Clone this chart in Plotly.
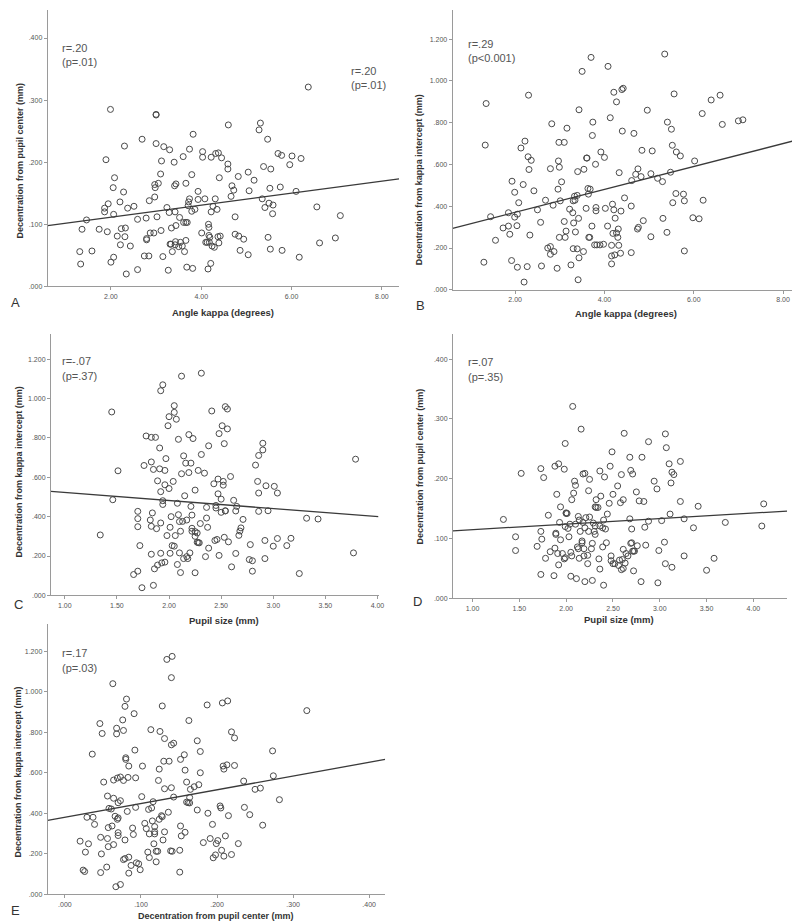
import plotly.graph_objects as go

W, H = 800, 921

# ---------------- Panel A: angle kappa vs decentration from pupil center
a_x = [1.31,1.33,1.36,1.46,1.58,1.74,1.86,1.86,1.92,1.94,1.89,1.99,2.00,2.06,2.05,2.08,2.06,2.14,2.20,2.21,
       2.23,2.28,2.30,2.31,2.32,2.34,2.37,2.43,2.51,2.59,2.59,2.69,2.74,2.78,2.79,2.79,2.84,2.85,2.87,2.95,
       2.97,2.97,2.98,3.00,3.00,3.00,3.02,3.05,3.10,3.11,3.12,3.15,3.17,3.24,3.27,3.30,3.29,3.31,3.33,3.34,
       3.36,3.40,3.41,3.42,3.42,3.43,3.44,3.44,3.50,3.52,3.54,3.58,3.60,3.61,3.63,3.66,3.66,3.66,3.68,3.69,
       3.72,3.71,3.74,3.74,3.79,3.79,3.82,3.81,3.86,3.93,3.93,4.01,4.03,4.03,4.08,4.10,4.13,4.15,4.16,4.17,
       4.17,4.18,4.19,4.21,4.22,4.22,4.24,4.26,4.29,4.31,4.32,4.35,4.37,4.38,4.39,4.40,4.42,4.45,4.60,4.59,
       4.59,4.66,4.68,4.72,4.75,4.75,4.82,4.83,4.86,4.94,5.04,5.04,5.06,5.17,5.28,5.31,5.35,5.38,5.41,5.47,
       5.48,5.50,5.52,5.54,5.53,5.58,5.59,5.70,5.75,5.78,5.79,5.96,6.01,6.10,6.17,6.21,6.37,6.56,6.62,6.97,7.08]
a_y = [0.056,0.036,0.092,0.107,0.057,0.092,0.126,0.120,0.088,0.133,0.204,0.285,0.039,0.047,0.159,0.175,0.116,0.081,0.136,0.067,
       0.093,0.152,0.226,0.080,0.094,0.020,0.126,0.065,0.129,0.027,0.108,0.237,0.049,0.110,0.077,0.075,0.049,0.138,0.086,0.086,
       0.144,0.164,0.159,0.277,0.276,0.230,0.112,0.166,0.181,0.090,0.202,0.048,0.225,0.127,0.026,0.220,0.119,0.068,0.068,0.094,
       0.056,0.200,0.162,0.120,0.067,0.072,0.098,0.165,0.064,0.111,0.071,0.065,0.209,0.103,0.056,0.166,0.103,0.074,0.031,0.103,
       0.136,0.130,0.141,0.221,0.180,0.121,0.245,0.029,0.124,0.153,0.140,0.086,0.217,0.208,0.141,0.071,0.071,0.028,0.100,0.095,
       0.082,0.071,0.079,0.037,0.120,0.208,0.065,0.129,0.063,0.141,0.214,0.124,0.080,0.215,0.070,0.175,0.081,0.207,0.260,0.197,
       0.189,0.145,0.162,0.155,0.084,0.112,0.177,0.081,0.058,0.076,0.184,0.051,0.154,0.171,0.252,0.263,0.141,0.193,0.127,0.237,
       0.079,0.134,0.158,0.189,0.060,0.117,0.131,0.214,0.160,0.211,0.058,0.196,0.210,0.153,0.047,0.206,0.321,0.128,0.070,0.078,0.114]
a_fit_x = [0.60, 8.38]
a_fit_y = [0.098, 0.173]

# ---------------- Panel B: angle kappa vs decentration from kappa intercept
b_x = [1.30,1.35,1.33,1.45,1.56,1.73,1.85,1.85,1.88,1.92,1.93,1.99,1.99,2.04,2.05,2.05,2.08,2.13,2.18,2.22,
       2.27,2.20,2.29,2.30,2.31,2.33,2.36,2.42,2.50,2.57,2.59,2.68,2.73,2.79,2.79,2.79,2.82,2.85,2.87,2.94,
       2.96,2.97,2.98,2.99,2.99,3.01,3.04,3.10,3.10,3.12,3.14,3.16,3.22,3.25,3.29,3.30,3.30,3.31,3.33,3.34,
       3.35,3.39,3.39,3.40,3.42,3.43,3.43,3.41,3.50,3.53,3.54,3.59,3.60,3.61,3.63,3.64,3.65,3.67,3.68,3.70,
       3.72,3.73,3.74,3.78,3.80,3.81,3.81,3.83,3.90,3.92,3.98,4.02,4.00,4.07,4.08,4.13,4.16,4.16,4.16,4.18,
       4.19,4.21,4.21,4.23,4.24,4.27,4.27,4.30,4.31,4.32,4.33,4.36,4.37,4.39,4.42,4.40,4.45,4.60,4.60,4.61,
       4.66,4.70,4.74,4.76,4.75,4.82,4.84,4.87,4.96,5.04,5.04,5.07,5.19,5.30,5.31,5.35,5.40,5.41,5.48,5.50,
       5.52,5.53,5.56,5.61,5.60,5.70,5.77,5.79,5.79,5.98,6.02,6.12,6.19,6.21,6.39,6.59,6.64,7.00,7.10]
b_y = [0.132,0.892,0.693,0.350,0.237,0.296,0.369,0.305,0.266,0.140,0.520,0.467,0.348,0.307,0.362,0.108,0.417,0.679,0.504,0.712,
       0.111,0.037,0.637,0.932,0.576,0.262,0.620,0.474,0.383,0.323,0.114,0.429,0.200,0.207,0.170,0.580,0.795,0.405,0.183,0.103,
       0.482,0.617,0.706,0.587,0.251,0.426,0.517,0.706,0.327,0.251,0.281,0.774,0.386,0.119,0.369,0.426,0.197,0.320,0.448,0.429,
       0.277,0.452,0.196,0.566,0.342,0.862,0.153,0.048,1.046,0.183,0.577,0.390,0.631,0.631,0.485,0.458,0.251,0.251,0.482,1.113,
       0.305,0.739,0.803,0.215,0.601,0.394,0.378,0.215,0.215,0.660,0.218,0.390,0.634,0.305,1.070,0.824,0.213,0.162,0.124,0.410,
       0.270,0.946,0.383,0.167,0.343,0.900,0.272,0.251,0.291,0.213,0.561,0.175,0.377,0.959,0.965,0.760,0.440,0.178,0.401,0.523,
       0.749,0.553,0.291,0.299,0.579,0.542,0.668,0.331,0.860,0.254,0.556,0.665,0.534,0.518,0.342,1.129,0.275,0.803,0.563,0.769,
       0.692,0.417,0.938,0.660,0.461,0.641,0.458,0.426,0.186,0.345,0.617,0.340,0.844,0.429,0.909,0.932,0.792,0.809,0.814]
b_fit_x = [0.60, 8.38]
b_fit_y = [0.294, 0.721]

# ---------------- Panel C: pupil size vs decentration from kappa intercept
c_x = [1.34,1.45,1.46,1.51,1.66,1.70,1.70,1.70,1.70,1.72,1.74,1.76,1.78,1.83,1.87,1.82,1.83,1.83,1.83,1.84,
       1.85,1.85,1.86,1.88,1.89,1.89,1.91,1.91,1.92,1.92,1.92,1.92,1.93,1.94,1.94,1.94,1.96,1.96,1.96,1.97,
       1.98,2.00,2.01,2.01,2.02,2.03,2.04,2.05,2.05,2.00,1.99,2.05,2.06,2.07,2.08,2.08,2.09,2.09,2.10,2.10,
       2.11,2.11,2.12,2.12,2.13,2.14,2.14,2.15,2.16,2.17,2.17,2.18,2.19,2.19,2.20,2.21,2.21,2.22,2.22,2.22,
       2.23,2.25,2.25,2.25,2.25,2.27,2.27,2.28,2.30,2.31,2.31,2.29,2.28,2.34,2.35,2.36,2.36,2.37,2.38,2.38,
       2.41,2.43,2.44,2.45,2.45,2.46,2.47,2.47,2.48,2.48,2.50,2.50,2.51,2.52,2.52,2.53,2.53,2.54,2.54,2.54,
       2.56,2.56,2.57,2.59,2.60,2.62,2.64,2.64,2.65,2.67,2.68,2.69,2.71,2.77,2.78,2.80,2.80,2.83,2.85,2.86,
       2.86,2.86,2.90,2.90,2.92,2.92,2.93,2.95,3.00,3.01,3.04,3.04,3.13,3.17,3.25,3.32,3.43,3.77,3.79]
c_y = [0.307,0.932,0.486,0.633,0.106,0.123,0.427,0.390,0.349,0.253,0.039,0.660,0.810,0.803,0.803,0.383,0.678,0.351,0.209,0.419,
       0.640,0.051,0.135,0.339,0.154,0.582,0.749,0.643,1.040,0.527,0.368,0.214,0.165,1.070,0.481,0.462,0.635,0.562,0.169,0.695,
       0.304,0.543,0.346,0.214,0.400,0.253,0.579,0.964,0.930,0.908,0.862,0.250,0.304,0.895,0.157,0.468,0.793,0.410,0.216,0.375,
       0.326,0.116,1.114,0.618,0.376,0.187,0.709,0.506,0.672,0.197,0.383,0.187,0.817,0.624,0.216,0.672,0.452,0.408,0.341,0.326,
       0.797,0.324,0.300,0.115,0.535,0.317,0.270,0.635,0.365,0.716,1.129,0.267,0.268,0.621,0.197,0.447,0.393,0.346,0.760,0.240,
       0.937,0.567,0.279,0.457,0.444,0.284,0.516,0.591,0.203,0.822,0.489,0.422,0.862,0.579,0.560,0.771,0.295,0.429,0.430,0.959,
       0.947,0.846,0.272,0.604,0.145,0.483,0.213,0.429,0.452,0.305,0.327,0.343,0.386,0.182,0.258,0.176,0.123,0.662,0.579,0.711,
       0.520,0.427,0.773,0.739,0.279,0.187,0.557,0.430,0.250,0.554,0.289,0.520,0.253,0.290,0.111,0.392,0.388,0.216,0.692]
c_fit_x = [0.867, 4.01]
c_fit_y = [0.528, 0.400]

# ---------------- Panel D: pupil size vs decentration from pupil center
d_x = [1.33,1.46,1.46,1.52,1.69,1.73,1.73,1.74,1.73,1.76,1.78,1.81,1.83,1.87,1.88,1.88,1.89,1.89,1.90,1.91,
       1.92,1.92,1.93,1.94,1.94,1.96,1.98,1.98,1.99,1.99,1.99,2.00,2.00,2.01,2.02,2.03,2.04,2.05,2.05,2.06,
       2.06,2.07,2.08,2.09,2.10,2.10,2.11,2.12,2.13,2.13,2.14,2.14,2.15,2.16,2.17,2.17,2.18,2.18,2.19,2.19,
       2.20,2.20,2.20,2.21,2.23,2.23,2.24,2.24,2.25,2.25,2.27,2.28,2.28,2.29,2.30,2.31,2.31,2.31,2.32,2.32,
       2.34,2.35,2.36,2.36,2.36,2.37,2.39,2.39,2.40,2.40,2.41,2.42,2.43,2.44,2.46,2.47,2.48,2.48,2.49,2.50,
       2.50,2.52,2.55,2.56,2.57,2.58,2.59,2.59,2.60,2.61,2.61,2.61,2.62,2.63,2.64,2.66,2.68,2.68,2.69,2.69,
       2.70,2.70,2.71,2.71,2.72,2.72,2.73,2.75,2.76,2.78,2.80,2.81,2.83,2.84,2.85,2.88,2.88,2.94,2.97,2.98,
       2.99,3.02,3.05,3.06,3.06,3.07,3.10,3.11,3.12,3.13,3.13,3.15,3.22,3.22,3.26,3.26,3.36,3.41,3.50,3.58,
       3.70,4.09,4.11]
d_y = [0.132,0.103,0.080,0.209,0.087,0.217,0.112,0.099,0.040,0.202,0.067,0.139,0.078,0.038,0.221,0.084,0.109,0.107,0.174,0.075,
       0.225,0.056,0.127,0.153,0.098,0.075,0.216,0.066,0.259,0.068,0.120,0.142,0.143,0.142,0.117,0.103,0.124,0.077,0.037,0.071,
       0.165,0.321,0.176,0.196,0.189,0.124,0.033,0.086,0.083,0.137,0.067,0.131,0.112,0.283,0.096,0.093,0.208,0.127,0.071,0.083,
       0.118,0.028,0.209,0.135,0.058,0.072,0.180,0.112,0.199,0.136,0.083,0.030,0.092,0.126,0.112,0.107,0.121,0.153,0.152,0.165,
       0.152,0.066,0.213,0.049,0.121,0.171,0.118,0.086,0.131,0.022,0.203,0.116,0.093,0.141,0.159,0.221,0.071,0.063,0.245,0.174,
       0.058,0.058,0.188,0.055,0.064,0.160,0.207,0.048,0.065,0.050,0.165,0.082,0.276,0.059,0.075,0.071,0.236,0.133,0.214,0.092,
       0.093,0.116,0.208,0.079,0.046,0.079,0.079,0.178,0.088,0.163,0.028,0.236,0.162,0.119,0.089,0.262,0.129,0.196,0.183,0.026,
       0.080,0.130,0.094,0.275,0.058,0.252,0.225,0.141,0.193,0.211,0.052,0.207,0.229,0.162,0.133,0.071,0.118,0.154,0.047,0.067,
       0.127,0.121,0.158]
d_fit_x = [0.791, 4.36]
d_fit_y = [0.113, 0.146]

# ---------------- Panel E: decentration from pupil center vs from kappa intercept
e_x = [0.020,0.027,0.024,0.026,0.029,0.031,0.037,0.036,0.039,0.046,0.047,0.047,0.049,0.048,0.051,0.055,0.056,0.056,0.057,0.057,
       0.058,0.061,0.063,0.062,0.064,0.064,0.064,0.066,0.067,0.068,0.068,0.069,0.069,0.070,0.070,0.070,0.070,0.073,0.073,0.073,
       0.076,0.077,0.077,0.077,0.079,0.079,0.079,0.080,0.080,0.081,0.082,0.083,0.084,0.084,0.084,0.087,0.089,0.090,0.091,0.092,
       0.093,0.093,0.094,0.097,0.099,0.102,0.101,0.105,0.107,0.109,0.110,0.111,0.111,0.113,0.114,0.115,0.116,0.117,0.118,0.118,
       0.118,0.120,0.120,0.122,0.123,0.124,0.124,0.125,0.127,0.128,0.128,0.129,0.130,0.131,0.131,0.131,0.134,0.141,0.140,0.136,
       0.137,0.139,0.140,0.140,0.141,0.143,0.143,0.151,0.151,0.152,0.152,0.153,0.157,0.158,0.158,0.160,0.160,0.162,0.163,0.164,
       0.164,0.165,0.170,0.174,0.174,0.176,0.178,0.178,0.182,0.187,0.188,0.191,0.194,0.195,0.198,0.199,0.201,0.204,0.205,0.206,
       0.207,0.208,0.209,0.209,0.211,0.213,0.214,0.215,0.219,0.219,0.223,0.223,0.228,0.235,0.236,0.243,0.250,0.257,0.260,0.273,
       0.274,0.282,0.318]
e_y = [0.263,0.209,0.120,0.113,0.381,0.250,0.381,0.693,0.346,0.844,0.282,0.108,0.795,0.200,0.555,0.135,0.486,0.276,0.236,0.330,
       0.425,0.422,1.041,0.338,0.475,0.565,0.246,0.386,0.038,0.793,0.821,0.575,0.371,0.378,0.453,0.305,0.291,0.049,0.580,0.463,
       0.862,0.810,0.563,0.172,0.929,0.269,0.177,0.675,0.667,0.965,0.410,0.578,0.634,0.184,0.105,0.143,0.328,0.296,0.893,0.713,
       0.576,0.430,0.156,0.151,0.122,0.634,0.483,0.351,0.325,0.209,0.420,0.182,0.299,0.814,0.427,0.363,0.458,0.250,0.310,0.335,
       0.299,0.161,0.213,0.213,0.563,0.371,0.619,0.805,0.389,0.384,0.931,0.269,0.658,0.309,0.522,0.770,1.161,1.176,1.071,0.406,
       0.658,0.215,0.739,0.527,0.213,0.747,0.481,0.218,0.110,0.667,0.338,0.289,0.690,0.307,0.614,0.456,0.555,0.453,0.859,0.479,
       0.452,0.519,0.532,0.759,0.417,0.542,0.706,0.601,0.256,0.936,0.401,0.276,0.346,0.181,0.195,0.251,0.266,0.437,0.427,0.218,
       0.946,0.634,0.619,0.189,0.289,0.640,0.956,0.389,0.197,0.803,0.773,0.637,0.251,0.560,0.430,0.394,0.519,0.525,0.342,0.709,
       0.586,0.468,0.908]
e_fit_x = [-0.0226, 0.421]
e_fit_y = [0.366, 0.667]

# ---------------- tick labels
kappa_ticks = [2, 4, 6, 8]
kappa_labels = ["2.00", "4.00", "6.00", "8.00"]
pupil_ticks = [1.0, 1.5, 2.0, 2.5, 3.0, 3.5, 4.0]
pupil_labels = ["1.00", "1.50", "2.00", "2.50", "3.00", "3.50", "4.00"]
pc_ticks = [0, 0.1, 0.2, 0.3, 0.4]
pc_labels = [".000", ".100", ".200", ".300", ".400"]
ki_ticks = [0, 0.2, 0.4, 0.6, 0.8, 1.0, 1.2]
ki_labels = [".000", ".200", ".400", ".600", ".800", "1.000", "1.200"]

# ---------------- layout helpers (pixel geometry)
def xd(p0, p1):
    return [p0 / W, p1 / W]

def yd(bottom, top):
    return [1 - bottom / H, 1 - top / H]

AX_COLOR = "#9a9a9a"
MARK = "#4a4a4a"

panels = [
    (a_x, a_y, a_fit_x, a_fit_y, (40, 394), (279.3, 2), [0.60, 8.38], [0, 0.4451], kappa_ticks, kappa_labels, pc_ticks, pc_labels),
    (b_x, b_y, b_fit_x, b_fit_y, (448, 798), (282.7, 2), [0.60, 8.38], [0, 1.340], kappa_ticks, kappa_labels, ki_ticks, ki_labels),
    (c_x, c_y, c_fit_x, c_fit_y, (43.3, 373.3), (589.3, 326.7), [0.867, 4.01], [0, 1.33], pupil_ticks, pupil_labels, ki_ticks, ki_labels),
    (d_x, d_y, d_fit_x, d_fit_y, (448.3, 785), (592.3, 326.7), [0.791, 4.36], [0, 0.4427], pupil_ticks, pupil_labels, pc_ticks, pc_labels),
    (e_x, e_y, e_fit_x, e_fit_y, (40, 380), (889.3, 618), [-0.0226, 0.421], [0, 1.336], pc_ticks, pc_labels, ki_ticks, ki_labels),
]

fig = go.Figure()
layout = {}
for i, (px, py, fx, fy, xdp, ydp, xr, yr, xt, xl, yt, yl) in enumerate(panels, start=1):
    sfx = "" if i == 1 else str(i)
    fig.add_trace(go.Scatter(
        x=px, y=py, mode="markers", xaxis="x" + sfx, yaxis="y" + sfx, showlegend=False,
        marker=dict(symbol="circle-open", size=6, color=MARK, line=dict(width=1, color=MARK)),
        hoverinfo="skip"))
    fig.add_trace(go.Scatter(
        x=fx, y=fy, mode="lines", xaxis="x" + sfx, yaxis="y" + sfx, showlegend=False,
        line=dict(color="#3a3a3a", width=1.3), hoverinfo="skip"))
    common = dict(showline=True, linecolor=AX_COLOR, linewidth=1, ticks="outside", ticklen=3,
                  tickcolor=AX_COLOR, tickwidth=1, showgrid=False, zeroline=False,
                  tickfont=dict(size=7, color="#555", family="Liberation Sans, Arial, sans-serif"),
                  tickmode="array", fixedrange=True)
    layout["xaxis" + sfx] = dict(common, domain=xd(*xdp), range=xr, tickvals=xt, ticktext=xl,
                                 anchor="y" + sfx)
    layout["yaxis" + sfx] = dict(common, domain=yd(*ydp), range=yr, tickvals=yt, ticktext=yl,
                                 anchor="x" + sfx)

ann = []
def text(x, y, s, size=11, color="#555", bold=False, angle=0, xanchor="left"):
    ann.append(dict(x=x / W, y=1 - y / H, xref="paper", yref="paper", text=("<b>%s</b>" % s) if bold else s,
                    showarrow=False, xanchor=xanchor, yanchor="middle", textangle=angle, borderpad=0,
                    font=dict(size=size, color=color, family="Liberation Sans, Arial, sans-serif")))

# stats
text(53, 40, "r=.20"); text(53, 54, "(p=.01)")
text(345, 63, "r=.20"); text(345, 77, "(p=.01)")
text(462, 36, "r=.29"); text(462, 50, "(p&lt;0.001)")
text(53, 354, "r=-.07"); text(53, 369, "(p=.37)")
text(462, 355, "r=.07"); text(462, 370, "(p=.35)")
text(53, 647, "r=.17"); text(53, 662, "(p=.03)")

# axis titles
TC = "#333"
text(217, 305, "Angle kappa (degrees)", size=9.5, color=TC, bold=True, xanchor="center")
text(623, 306, "Angle kappa (degrees)", size=9.5, color=TC, bold=True, xanchor="center")
text(218, 615, "Pupil size (mm)", size=9.5, color=TC, bold=True, xanchor="center")
text(616, 613, "Pupil size (mm)", size=9.5, color=TC, bold=True, xanchor="center")
text(210, 911, "Decentration from pupil center (mm)", size=9, color=TC, bold=True, xanchor="center")
text(12, 153, "Decentration from pupil center (mm)", size=9, color=TC, bold=True, angle=-90, xanchor="center")
text(415, 172, "Decentration from kappa intercept (mm)", size=9, color=TC, bold=True, angle=-90, xanchor="center")
text(12, 465, "Decentration from kappa intercept (mm)", size=9, color=TC, bold=True, angle=-90, xanchor="center")
text(415, 460, "Decentration from pupil center (mm)", size=9, color=TC, bold=True, angle=-90, xanchor="center")
text(10, 766, "Decentration from kappa intercept (mm)", size=9, color=TC, bold=True, angle=-90, xanchor="center")

# panel letters
for lx, ly, s in [(2, 295, "A"), (410, 298, "B"), (5, 598, "C"), (407, 595, "D"), (2, 905, "E")]:
    text(lx, ly, s, size=13, color="#333")

fig.update_layout(**layout)
fig.update_layout(width=W, height=H, margin=dict(l=0, r=0, t=0, b=0),
                  paper_bgcolor="white", plot_bgcolor="white", annotations=ann, showlegend=False)

fig.write_html("out.html")
